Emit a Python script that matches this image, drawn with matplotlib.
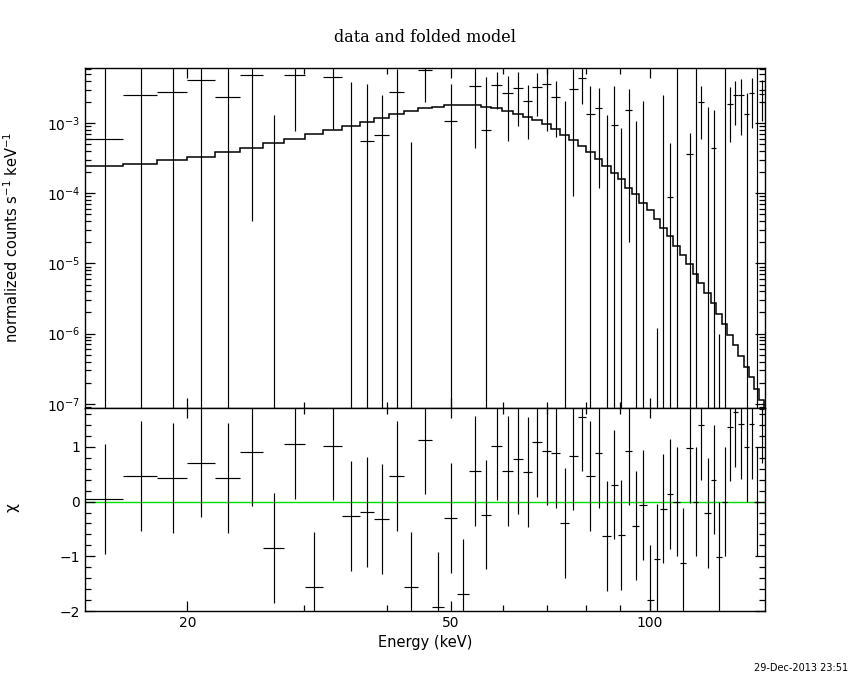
import numpy as np
import matplotlib
matplotlib.use("Agg")
import matplotlib.pyplot as plt
from matplotlib.ticker import FixedLocator, NullFormatter, FixedFormatter

# ---------------- data ----------------
edges = [14.0, 16.0, 18.0, 20.0, 22.0, 24.0, 26.0, 28.0, 30.1, 32.1, 34.3, 36.4,
         38.3, 40.4, 42.5, 44.6, 46.9, 48.9, 51.1, 53.3, 55.5, 57.6, 59.8, 62.1,
         64.3, 66.4, 68.8, 71.0, 73.2, 75.5, 77.8, 80.0, 82.5, 84.8, 87.2, 89.4,
         91.8, 94.0, 96.4, 99.0, 101.3, 103.6, 106.1, 108.5, 111.0, 113.6, 116.1,
         118.4, 120.9, 123.6, 126.0, 128.5, 130.9, 133.4, 136.0, 138.7, 141.3,
         143.8, 146.3, 149.0]

rate = [5.86e-4, 2.51e-3, 2.82e-3, 4.06e-3, 2.34e-3, 4.78e-3, -3.9e-3, 4.78e-3,
        -3.98e-3, 4.52e-3, -1.4e-4, 5.49e-4, 6.74e-4, 2.82e-3, -1.15e-3, 5.67e-3,
        -3.12e-3, 1.06e-3, -3.28e-3, 3.36e-3, 7.87e-4, 3.44e-3, 2.65e-3, 3.12e-3,
        2.04e-3, 3.25e-3, 3.56e-3, 2.34e-3, -2.0e-4, 3.02e-3, 4.37e-3, 1.33e-3,
        1.62e-3, -1.55e-3, 9.37e-4, -9.4e-4, 1.52e-3, -6.7e-4, -5.0e-5, -3.52e-3,
        -9.988e-4, -3.3e-4, 8.85e-5, 0.0, -1.1e-4, 3.58e-4, 0.0, 1.99e-3, -4.5e-4,
        4.36e-4, -8.2e-5, 0.0, 1.9e-3, 2.48e-3, 2.48e-3, 1.33e-3, 2.65e-3, 0.0,
        2.56e-3]

rate_err = [7.0e-3, 4.8e-3, 5.9e-3, 5.3e-3, 4.5e-3, 4.74e-3, 5.2e-3, 4.0e-3,
            3.0e-3, 3.7e-3, 3.98e-3, 3.04e-3, 1.86e-3, 3.1e-3, 1.68e-3, 3.66e-3,
            2.5e-3, 2.53e-3, 3.0e-3, 2.92e-3, 3.77e-3, 1.84e-3, 2.1e-3, 2.2e-3,
            1.45e-3, 2.0e-3, 2.8e-3, 1.7e-3, 2.26e-3, 2.93e-3, 2.52e-3, 2.0e-3,
            1.5e-3, 2.85e-3, 2.4e-3, 1.8e-3, 1.5e-3, 1.74e-3, 2.11e-3, 2.0e-3,
            1.0e-3, 2.83e-3, 4.4e-4, 7.0e-3, 1.1e-4, 3.7e-4, 7.0e-3, 1.4e-3, 2.14e-3,
            1.09e-3, 8.3e-5, 7.0e-3, 1.37e-3, 1.55e-3, 1.8e-3, 1.33e-3, 1.8e-3,
            7.0e-3, 1.5e-3]

model = [2.44e-4, 2.63e-4, 2.94e-4, 3.31e-4, 3.87e-4, 4.45e-4, 5.14e-4, 6.0e-4,
         6.97e-4, 7.87e-4, 8.97e-4, 1.04e-3, 1.19e-3, 1.36e-3, 1.5e-3, 1.62e-3,
         1.71e-3, 1.79e-3, 1.79e-3, 1.79e-3, 1.71e-3, 1.62e-3, 1.48e-3, 1.37e-3,
         1.23e-3, 1.09e-3, 9.6e-4, 8.13e-4, 6.82e-4, 5.67e-4, 4.71e-4, 3.87e-4,
         3.04e-4, 2.45e-4, 1.96e-4, 1.58e-4, 1.2e-4, 9.66e-5, 7.35e-5, 5.74e-5,
         4.32e-5, 3.24e-5, 2.47e-5, 1.77e-5, 1.32e-5, 9.75e-6, 7.16e-6, 5.23e-6,
         3.77e-6, 2.71e-6, 1.93e-6, 1.36e-6, 9.6e-7, 6.85e-7, 4.82e-7, 3.36e-7,
         2.37e-7, 1.62e-7, 1.13e-7]

chi = [0.05, 0.47, 0.43, 0.71, 0.43, 0.91, -0.85, 1.05, -1.56, 1.02, -0.26, -0.19,
       -0.32, 0.47, -1.56, 1.13, -1.93, -0.30, -1.69, 0.56, -0.24, 1.02, 0.56, 0.78,
       0.54, 1.09, 0.93, 0.89, -0.39, 0.84, 1.55, 0.47, 0.89, -0.63, 0.31, -0.61,
       0.93, -0.44, -0.06, -1.79, -1.05, -0.13, 0.14, 0.0, -1.12, 0.98, 0.0, 1.40,
       -0.21, 0.40, -1.01, 0.0, 1.37, 1.63, 1.42, 1.0, 1.42, 0.0, 1.70]
chi_err = [1.0] * len(chi)

x_ticks_major = [20, 50, 100]
x_tick_labels = ["20", "50", "100"]
x_ticks_minor = [30, 40, 60, 70, 80, 90]
y_top_ticks = [1e-7, 1e-6, 1e-5, 1e-4, 1e-3]
y_top_labels = [r"$10^{-7}$", r"$10^{-6}$", r"$10^{-5}$", r"$10^{-4}$", r"$10^{-3}$"]
y_bot_ticks = [-2, -1, 0, 1]
y_bot_labels = ["\u22122", "\u22121", "0", "1"]

title_text = "data and folded model"
xlabel_text = "Energy (keV)"
ylabel_top = r"normalized counts s$^{-1}$ keV$^{-1}$"
ylabel_bot = "\u03c7"
date_text = "29-Dec-2013 23:51"

# ---------------- plotting ----------------
plt.rcParams['font.family'] = ['DejaVu Sans']
plt.rcParams['mathtext.fontset'] = 'dejavusans'

edges_a = np.array(edges)
lo = edges_a[:-1]
hi = edges_a[1:]
cen = 0.5 * (lo + hi)
rate_a = np.array(rate)
err_a = np.array(rate_err)
chi_a = np.array(chi)
chie_a = np.array(chi_err)

fig = plt.figure(figsize=(8.5, 6.8), dpi=100)
ax1 = fig.add_axes([0.1, 0.4, 0.8, 0.5])
ax2 = fig.add_axes([0.1, 0.10147, 0.8, 0.29853], sharex=ax1)

lw = 0.85
xmin, xmax = 14.0, 149.3

# top panel
ax1.set_xscale('log')
ax1.set_yscale('log')
ymin_top, ymax_top = 8.7e-8, 6.1e-3
up = rate_a + err_a
low = rate_a - err_a
show = up > 0
low_cl = np.where(low > 0, low, 1e-12)
ax1.vlines(cen[show], low_cl[show], up[show], color='black', lw=lw)
pos = rate_a > 0
ax1.hlines(rate_a[pos], lo[pos], hi[pos], color='black', lw=lw)
ax1.stairs(model, edges_a, color='black', lw=1.1)
ax1.set_xlim(xmin, xmax)
ax1.set_ylim(ymin_top, ymax_top)

ax1.yaxis.set_major_locator(FixedLocator(y_top_ticks))
ax1.yaxis.set_major_formatter(FixedFormatter(y_top_labels))
minors = [m * 10.0 ** e for e in range(-8, -2) for m in range(2, 10)]
ax1.yaxis.set_minor_locator(FixedLocator(minors))
ax1.yaxis.set_minor_formatter(NullFormatter())

# bottom panel
ax2.axhline(0, color='#00dd00', lw=1.0, zorder=1)
ax2.hlines(chi_a, lo, hi, color='black', lw=lw, zorder=2)
ax2.vlines(cen, chi_a - chie_a, chi_a + chie_a, color='black', lw=lw, zorder=2)
ax2.set_ylim(-2.0, 1.71)
ax2.set_xlim(xmin, xmax)
ax2.yaxis.set_major_locator(FixedLocator(y_bot_ticks))
ax2.yaxis.set_major_formatter(FixedFormatter(y_bot_labels))
ax2.yaxis.set_minor_locator(FixedLocator(np.arange(-2.0, 1.8, 0.2)))

for ax in (ax1, ax2):
    ax.xaxis.set_major_locator(FixedLocator(x_ticks_major))
    ax.xaxis.set_minor_locator(FixedLocator(x_ticks_minor))
    ax.xaxis.set_minor_formatter(NullFormatter())
    ax.tick_params(which='both', direction='in', top=True, right=True,
                   width=0.9, colors='black', labelsize=10)
    ax.tick_params(which='major', length=7)
    ax.tick_params(which='minor', length=4)
    for s in ax.spines.values():
        s.set_linewidth(1.0)

ax1.tick_params(axis='x', which='both', labelbottom=False)
ax2.xaxis.set_major_formatter(FixedFormatter(x_tick_labels))

fig.text(0.5, 1 - 38 / 680, title_text, ha='center', va='center',
         fontsize=11.5, family=['DejaVu Serif'])
ax2.set_xlabel(xlabel_text, fontsize=10.5, labelpad=4)
fig.text(12 / 850, 1 - 237 / 680, ylabel_top, rotation=90, ha='center',
         va='center', fontsize=10.5)
fig.text(12 / 850, 1 - 508 / 680, ylabel_bot, rotation=90, ha='center',
         va='center', fontsize=11)
fig.text(848 / 850, 1 - 668 / 680, date_text, ha='right', va='center',
         fontsize=7)

fig.savefig('out.png', dpi=100)
